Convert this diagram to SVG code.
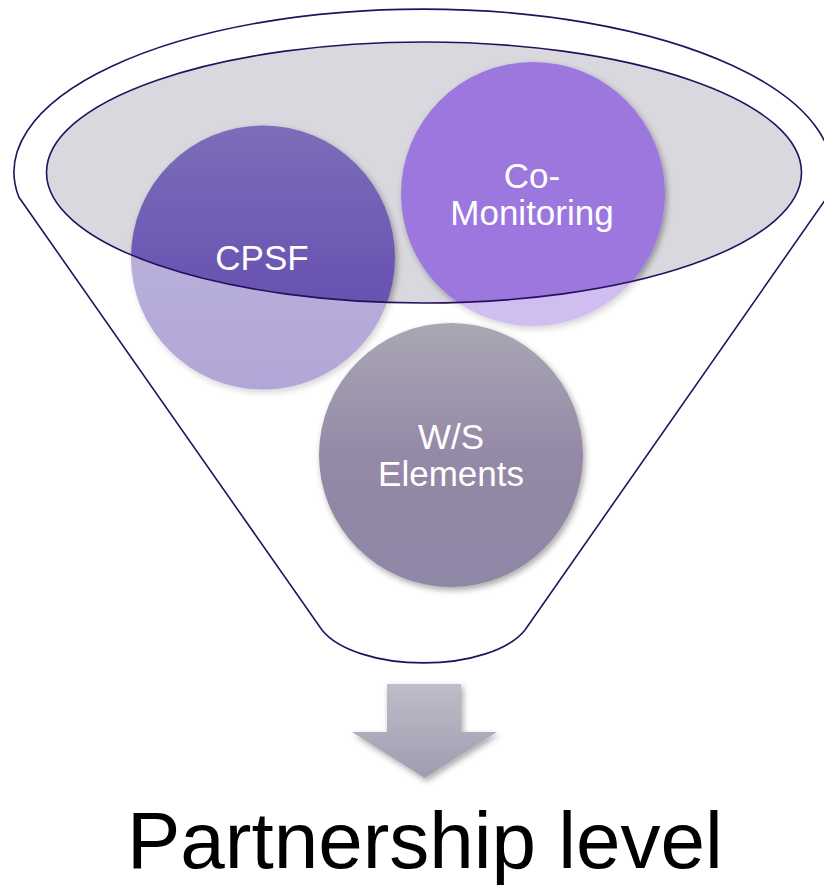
<svg xmlns="http://www.w3.org/2000/svg" width="824" height="885" viewBox="0 0 824 885">
  <defs>
    <style>
      .lbl { font-family: "Liberation Sans", Arial, sans-serif; font-size: 35px; fill: #ffffff; text-anchor: middle; }
      .outline { fill: none; stroke: #2a0f5e; stroke-width: 1.6; }
      .title { font-family: "Liberation Sans", Arial, sans-serif; font-size: 80px; fill: #000000; }
    </style>
    <linearGradient id="gCpsf" x1="0" y1="0" x2="0" y2="1">
      <stop offset="0" stop-color="#7c6dba"/>
      <stop offset="1" stop-color="#5d45ac"/>
    </linearGradient>
    <linearGradient id="gWs" x1="0" y1="0" x2="0" y2="1">
      <stop offset="0" stop-color="#aaa7b4"/>
      <stop offset="0.5" stop-color="#9489a7"/>
      <stop offset="1" stop-color="#8e87a5"/>
    </linearGradient>
    <linearGradient id="gArrow" x1="0" y1="0" x2="0" y2="1">
      <stop offset="0" stop-color="#bebdc8"/>
      <stop offset="1" stop-color="#a09cb0"/>
    </linearGradient>
    <filter id="shadow" x="-20%" y="-20%" width="140%" height="140%">
      <feDropShadow dx="2" dy="3" stdDeviation="3" flood-color="#000000" flood-opacity="0.35"/>
    </filter>
  </defs>

  <g id="funnel-top">
    <ellipse cx="424" cy="172.5" rx="377.5" ry="130.5" fill="#d9d8de"/>
  </g>

  <g id="node-cpsf">
    <circle cx="263" cy="257.5" r="132" fill="url(#gCpsf)" filter="url(#shadow)"/>
  </g>
  <g id="node-comonitoring">
    <circle cx="533" cy="194" r="132" fill="#9b77de" filter="url(#shadow)"/>
  </g>

  <path d="M0 0 H824 V660 H0 Z M46.5 172.5 A377.5 130.5 0 1 0 801.5 172.5 A377.5 130.5 0 1 0 46.5 172.5 Z" fill="#ffffff" fill-opacity="0.52" fill-rule="evenodd"/>

  <g id="funnel-rim">
    <ellipse class="outline" cx="424" cy="172.5" rx="377.5" ry="130.5"/>
  </g>

  <g id="labels-top">
    <text class="lbl" x="262" y="270">CPSF</text>
    <text class="lbl" x="532" y="188">Co-</text>
    <text class="lbl" x="532" y="225">Monitoring</text>
  </g>

  <g id="node-ws">
    <circle cx="451" cy="455" r="132" fill="url(#gWs)" filter="url(#shadow)"/>
    <text class="lbl" x="451" y="449">W/S</text>
    <text class="lbl" x="451" y="486">Elements</text>
  </g>

  <g id="funnel">
    <path class="outline" d="M18.8 197 A409 163 0 1 1 827.2 197 L525 630 A108 50 0 0 1 322 630 L18.8 197 Z"/>
  </g>

  <g id="connectors">
    <polygon points="387,684 461,684 461,732 497,732 424.5,778 352,732 387,732" fill="url(#gArrow)" filter="url(#shadow)"/>
  </g>

  <g id="node-partnership">
    <text class="title" x="127" y="868">Partnership level</text>
  </g>
</svg>
